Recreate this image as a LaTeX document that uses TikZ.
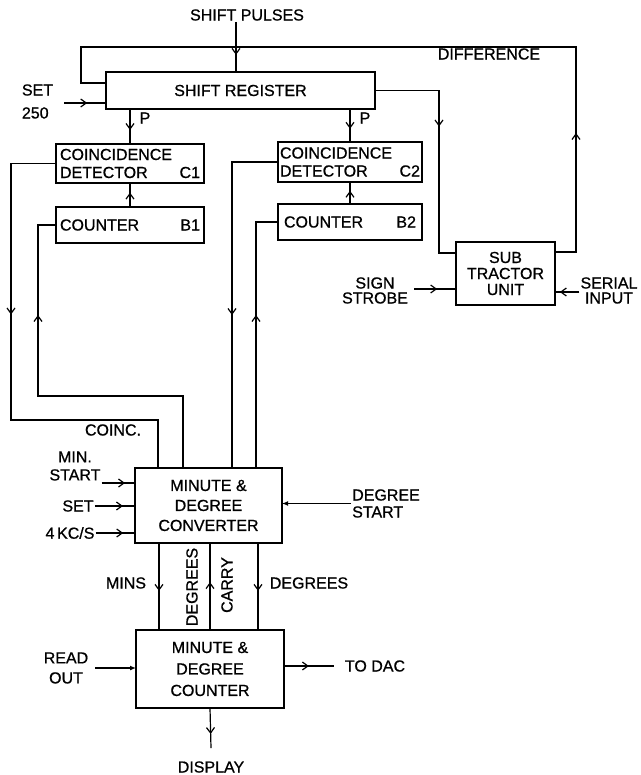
\documentclass[tikz,border=0pt]{standalone}
\usepackage{fontspec}
\setmainfont{Liberation Sans}[FakeBold=0.8]
\usetikzlibrary{arrows.meta,decorations.markings}
\begin{document}
\begin{tikzpicture}[x=1pt,y=-1pt,
  font=\fontsize{16}{18}\selectfont,
  box/.style={draw,line width=2.2pt,inner sep=0pt,outer sep=0pt,align=center},
  wire/.style={line width=1.2pt},
  marr/.style={postaction={decorate},decoration={markings,mark=at position #1 with {\arrow{Straight Barb[length=5.5pt,width=8pt]}}}},
  lbl/.style={inner sep=1pt,align=center},
  ]
\fill[white] (0,0) rectangle (640,775);
\useasboundingbox (0,0) rectangle (640,775);

% boxes
\node[box,minimum width=269pt,minimum height=37pt] (sr) at (240.5,90.5) {SHIFT REGISTER};
\node[box,minimum width=148pt,minimum height=39pt,text width=140pt,align=left] (c1) at (130,163.5) {COINCIDENCE\\DETECTOR\hfill C1};
\node[box,minimum width=148pt,minimum height=36pt,text width=140pt,align=left] (b1) at (130,225) {COUNTER\hfill B1};
\node[box,minimum width=144pt,minimum height=40pt,text width=140pt,align=left] (c2) at (350,162) {COINCIDENCE\\DETECTOR\hfill C2};
\node[box,minimum width=144pt,minimum height=36pt,text width=132pt,align=left] (b2) at (350,222) {COUNTER\hfill B2};
\node[box,minimum width=99pt,minimum height=63pt,font=\fontsize{16}{16}\selectfont] (sub) at (505.5,273.5) {SUB\\TRACTOR\\UNIT};
\node[box,minimum width=147pt,minimum height=75pt,font=\fontsize{16}{20}\selectfont] (conv) at (208.5,505.5) {MINUTE \&\\DEGREE\\CONVERTER};
\node[box,minimum width=148pt,minimum height=78pt,font=\fontsize{16}{21.5}\selectfont] (cnt) at (210,669) {MINUTE \&\\DEGREE\\COUNTER};

% labels
\node[lbl] (sp) at (247,15) {SHIFT PULSES};
\node[lbl] (diff) at (489,54) {DIFFERENCE};
\node[lbl,align=left,font=\fontsize{16}{23}\selectfont] (set250) at (37.5,101.5) {SET\\250};
\node[lbl] (p1) at (145,118) {P};
\node[lbl] (p2) at (365,118) {P};
\node[lbl,font=\fontsize{16}{15}\selectfont] (ss) at (375,290.5) {SIGN\\STROBE};
\node[lbl,font=\fontsize{16}{15}\selectfont] (si) at (609,290.5) {SERIAL\\INPUT};
\node[lbl] (coinc) at (113,430) {COINC.};
\node[lbl] (ms) at (75,466) {MIN.\\START};
\node[lbl] (set2) at (78,506) {SET};
\node[lbl] (kcs) at (70,533) {4\,KC/S};
\node[lbl,align=left,font=\fontsize{16}{17}\selectfont] (ds) at (386,503.5) {DEGREE\\START};
\node[lbl] (mins) at (126,583) {MINS};
\node[lbl,rotate=90] (degv) at (192,587) {DEGREES};
\node[lbl,rotate=90] (carry) at (227,585) {CARRY};
\node[lbl] (degr) at (309,583) {DEGREES};
\node[lbl,font=\fontsize{16}{20}\selectfont] (ro) at (66,668) {READ\\OUT};
\node[lbl] (dac) at (375,666) {TO DAC};
\node[lbl] (disp) at (211,767) {DISPLAY};

% connectors
\draw[wire,marr=33pt] ([xshift=-11pt]sp.south) -- ([xshift=-11pt]sp.south |- sr.north);
\draw[wire,marr=140pt] (sub.east |- 0,252) -| (576,47) -| (81,83) -- (sr.west |- 0,83);
\draw[wire,marr=100pt] (sr.east) -| (439,253) -- (sub.west |- 0,253);
\draw[wire,marr=0.55] ([xshift=10pt]set250.east |- 0,103) -- (sr.west |- 0,103);
\draw[wire,marr=0.6] (sr.south -| c1.north) -- (c1.north);
\draw[wire,marr=0.6] (sr.south -| c2.north) -- (c2.north);
\draw[wire,marr=0.6] (b1.north) -- (c1.south);
\draw[wire,marr=0.6] (b2.north) -- (c2.south);
\draw[wire,marr=196pt] (c1.west) -| (11,420) -| (conv.north -| 158,0);
\draw[wire,marr=298pt] (conv.north -| 183,0) |- (38,396) |- (b1.west);
\draw[wire,marr=199pt] (c2.west) -| (conv.north -| 232,0);
\draw[wire,marr=153pt] (conv.north -| 256,0) |- (b2.west);
\draw[wire,marr=0.55] ([xshift=5pt]ss.east |- 0,289) -- (sub.west |- 0,289);
\draw[wire,marr=0.8] (si.west |- 0,292) -- (sub.east |- 0,292);
\draw[wire,marr=0.7] (ms.east |- 0,483) -- (conv.west |- 0,483);
\draw[wire,marr=0.7] (set2.east) -- (set2.east -| conv.west);
\draw[wire,marr=0.7] (kcs.east) -- (kcs.east -| conv.west);
\draw[wire,-{Latex[length=6pt,width=5pt]}] (ds.west) -- (ds.west -| conv.east);
\draw[wire,-{Latex[length=6pt,width=5pt]}] ([xshift=6pt]ro.east) -- (ro.east -| cnt.west);
\draw[wire,marr=0.55] (conv.south -| 159,0) -- (cnt.north -| 159,0);
\draw[wire,marr=0.55] (cnt.north) -- (cnt.north |- conv.south);
\draw[wire,marr=0.55] (conv.south -| 258,0) -- (cnt.north -| 258,0);
\draw[wire,marr=0.5] (cnt.east |- dac.west) -- ([xshift=-10pt]dac.west);
\draw[wire,marr=26pt] (cnt.south) -- ([yshift=12pt]disp.north);
\end{tikzpicture}
\end{document}
